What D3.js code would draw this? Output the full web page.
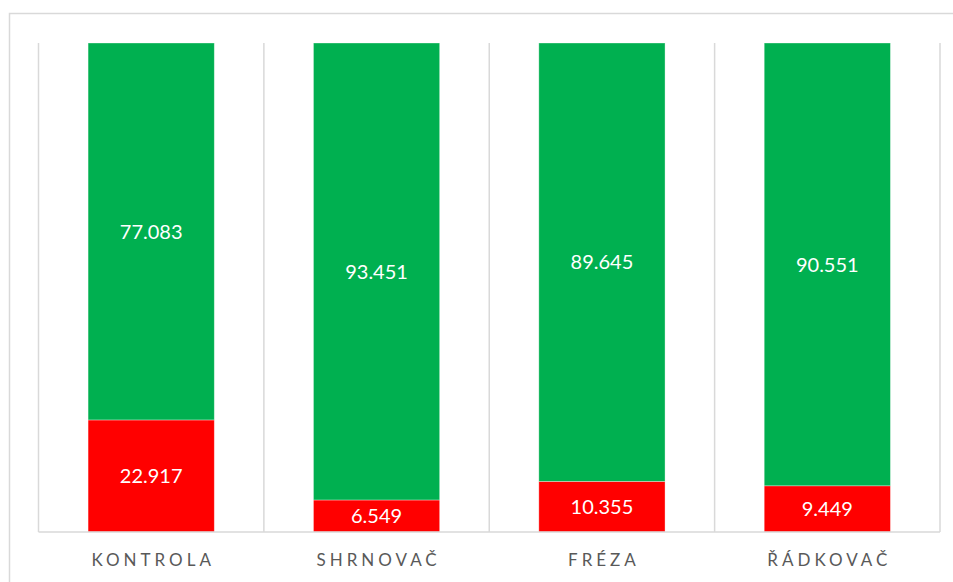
<!DOCTYPE html>
<html>
<head>
<meta charset="utf-8">
<script src="https://cdn.jsdelivr.net/npm/d3@7"></script>
<style>
  body { margin: 0; background: #fff; }
  svg { display: block; }
</style>
</head>
<body>
<svg id="chart" width="953" height="582"></svg>
<script>
// data
var categories = ["KONTROLA", "SHRNOVAČ", "FRÉZA", "ŘÁDKOVAČ"];
var redValues = [22.917, 6.549, 10.355, 9.449];
var greenValues = [77.083, 93.451, 89.645, 90.551];
var seriesColors = ["#FF0000", "#00B050"];

var svg = d3.select("#chart");
var plotLeft = 38.5, plotRight = 940, plotTop = 43, plotBottom = 532;

// outer chart border (runs off the right and bottom edge)
svg.append("rect")
    .attr("x", 9.5).attr("y", 13.5)
    .attr("width", 960).attr("height", 600)
    .attr("fill", "none").attr("stroke", "#d9d9d9").attr("stroke-width", 1.5);

var x = d3.scaleBand()
    .domain(categories)
    .range([plotLeft, plotRight])
    .paddingInner(0.44).paddingOuter(0.22);

var y = d3.scaleLinear()
    .domain([0, 100])
    .range([plotBottom, plotTop]);

// vertical gridlines between categories
var gridX = d3.range(categories.length + 1).map(function(i) { return plotLeft + i * (plotRight - plotLeft) / categories.length; });
svg.append("g").selectAll("line")
    .data(gridX)
    .join("line")
    .attr("x1", function(d) { return d; }).attr("x2", function(d) { return d; })
    .attr("y1", y(100)).attr("y2", y(0))
    .attr("stroke", "#d9d9d9").attr("stroke-width", 1.5);

var rows = categories.map(function(c, i) { return { cat: c, red: redValues[i], green: greenValues[i] }; });
var stacked = d3.stack().keys(["red", "green"])(rows);

var layers = svg.append("g").selectAll("g")
    .data(stacked)
    .join("g")
    .attr("fill", function(d, i) { return seriesColors[i]; });

layers.selectAll("rect")
    .data(function(d) { return d; })
    .join("rect")
    .attr("x", function(d) { return x(d.data.cat); })
    .attr("width", x.bandwidth())
    .attr("y", function(d) { return y(d[1]); })
    .attr("height", function(d) { return y(d[0]) - y(d[1]); })
    .attr("stroke", "rgba(255,255,255,0.45)").attr("stroke-width", 0.75);

// value labels
layers.selectAll("text")
    .data(function(d) { return d.map(function(p) { return { p: p, key: d.key }; }); })
    .join("text")
    .attr("x", function(d) { return x(d.p.data.cat) + x.bandwidth() / 2; })
    .attr("y", function(d) { return (y(d.p[0]) + y(d.p[1])) / 2; })
    .attr("dy", "0.36em")
    .attr("text-anchor", "middle")
    .attr("fill", "#fff")
    .attr("font-family", "Lato, 'Open Sans', sans-serif")
    .attr("font-size", 20)
    .text(function(d) { return d.p.data[d.key].toFixed(3); });

// x axis line
svg.append("line")
    .attr("x1", plotLeft).attr("x2", plotRight)
    .attr("y1", y(0)).attr("y2", y(0))
    .attr("stroke", "#d9d9d9").attr("stroke-width", 1.5);

// category labels
svg.append("g").selectAll("text")
    .data(categories)
    .join("text")
    .attr("x", function(d) { return x(d) + x.bandwidth() / 2 + 2; })
    .attr("y", 566)
    .attr("text-anchor", "middle")
    .attr("fill", "#595959")
    .attr("font-family", "Lato, 'Open Sans', sans-serif")
    .attr("font-size", 17)
    .attr("letter-spacing", "4px")
    .text(function(d) { return d; });
</script>
</body>
</html>
